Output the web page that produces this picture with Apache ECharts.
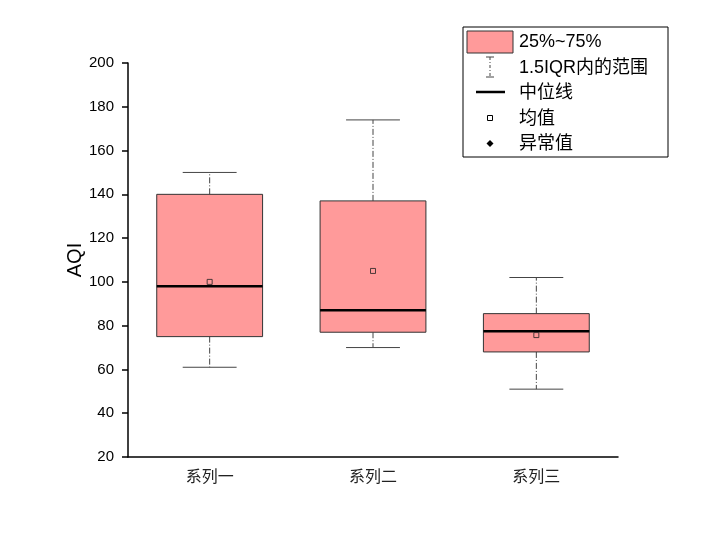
<!DOCTYPE html>
<html>
<head>
<meta charset="utf-8">
<script src="https://cdn.jsdelivr.net/npm/echarts@6/dist/echarts.min.js"></script>
<style>html,body{margin:0;padding:0;background:#fff}#c{width:720px;height:551px}</style>
</head>
<body>
<div id="c"></div>
<script>
const categories = ['系列一', '系列二', '系列三'];
const whiskerLow = [61, 70, 51];
const q1 = [75, 77, 68];
const median = [98, 87, 77.5];
const q3 = [140, 137, 85.5];
const whiskerHigh = [150, 174, 102];
const means = [100, 105, 75.7];
const legendLabels = ['25%~75%', '1.5IQR内的范围', '中位线', '均值', '异常值'];
const yName = 'AQI';

const boxColor = '#ff9a9a';
const edge = '#333';
const latin = "'Liberation Sans', Arial, 'Noto Sans CJK SC', sans-serif";
const cjk = "'Noto Sans CJK SC', sans-serif";

const boxData = categories.map((c, i) => [i, whiskerLow[i], q1[i], median[i], q3[i], whiskerHigh[i]]);

function renderItem(params, api) {
  const i = api.value(0);
  const lo = api.coord([i, api.value(1)]);
  const b1 = api.coord([i, api.value(2)]);
  const md = api.coord([i, api.value(3)]);
  const b3 = api.coord([i, api.value(4)]);
  const hi = api.coord([i, api.value(5)]);
  const band = api.size([1, 0])[0];
  const bw = band * 0.648, cw = band * 0.33;
  const x = lo[0];
  const dash = {stroke: '#444', lineWidth: 1, lineDash: [6, 2, 1, 2]};
  const solid = {stroke: '#444', lineWidth: 1};
  return {
    type: 'group',
    children: [
      {type: 'line', shape: {x1: x, y1: b3[1], x2: x, y2: hi[1]}, style: dash},
      {type: 'line', shape: {x1: x, y1: b1[1], x2: x, y2: lo[1]}, style: dash},
      {type: 'line', shape: {x1: x - cw / 2, y1: hi[1], x2: x + cw / 2, y2: hi[1]}, style: solid},
      {type: 'line', shape: {x1: x - cw / 2, y1: lo[1], x2: x + cw / 2, y2: lo[1]}, style: solid},
      {type: 'rect', shape: {x: x - bw / 2, y: b3[1], width: bw, height: b1[1] - b3[1]},
        style: {fill: boxColor, stroke: edge, lineWidth: 1}},
      {type: 'line', shape: {x1: x - bw / 2, y1: md[1], x2: x + bw / 2, y2: md[1]},
        style: {stroke: '#000', lineWidth: 2.5}}
    ]
  };
}

// legend built as graphic elements
const lgX = 463, lgY = 27, rowH = 25.6, row0 = 42;
const legendGraphic = [
  {type: 'rect', shape: {x: lgX, y: lgY, width: 205, height: 130}, style: {fill: '#fff', stroke: '#000', lineWidth: 1}, z: 100},
  {type: 'rect', shape: {x: 467, y: 31, width: 46, height: 22}, style: {fill: boxColor, stroke: edge, lineWidth: 1}, z: 101},
  {type: 'line', shape: {x1: 490, y1: 57, x2: 490, y2: 77}, style: {stroke: '#444', lineWidth: 1, lineDash: [3, 2, 1, 2]}, z: 101},
  {type: 'line', shape: {x1: 486, y1: 57, x2: 494, y2: 57}, style: {stroke: '#444', lineWidth: 1}, z: 101},
  {type: 'line', shape: {x1: 486, y1: 77, x2: 494, y2: 77}, style: {stroke: '#444', lineWidth: 1}, z: 101},
  {type: 'line', shape: {x1: 476, y1: 92, x2: 505, y2: 92}, style: {stroke: '#000', lineWidth: 2.5}, z: 101},
  {type: 'rect', shape: {x: 487.5, y: 115.5, width: 5, height: 5}, style: {fill: '#fff', stroke: '#000', lineWidth: 1}, z: 101},
  {type: 'polygon', shape: {points: [[490, 140], [493.5, 143.5], [490, 147], [486.5, 143.5]]}, style: {fill: '#000'}, z: 101}
];
legendLabels.forEach((t, k) => {
  legendGraphic.push({
    type: 'text', x: 519, y: row0 + k * rowH, z: 101,
    style: {text: t, font: '18px ' + latin, fill: '#000', verticalAlign: 'middle', align: 'left'}
  });
});

const chart = echarts.init(document.getElementById('c'), null, {renderer: 'canvas'});
chart.setOption({
  animation: false,
  backgroundColor: '#fff',
  grid: {left: 128, right: 102, top: 63, bottom: 94, containLabel: false},
  xAxis: {
    type: 'category', data: categories, boundaryGap: true,
    axisLine: {lineStyle: {color: '#000', width: 1.5}},
    axisTick: {alignWithLabel: true, length: 6, lineStyle: {color: '#000', width: 1.5}},
    axisLabel: {fontFamily: cjk, fontSize: 16, color: '#222', margin: 11},
    splitLine: {show: false}
  },
  yAxis: {
    type: 'value', min: 20, max: 200, interval: 20,
    name: yName, nameLocation: 'middle', nameGap: 43, nameRotate: 90, nameMoveOverlap: false,
    nameTextStyle: {fontFamily: latin, fontSize: 20, color: '#000'},
    axisLine: {show: true, lineStyle: {color: '#000', width: 1.5}},
    axisTick: {show: true, length: 6, lineStyle: {color: '#000', width: 1.5}},
    axisLabel: {fontFamily: latin, fontSize: 15, color: '#000', margin: 14},
    splitLine: {show: false}
  },
  series: [
    {type: 'custom', renderItem: renderItem, data: boxData, encode: {x: 0, y: [1, 2, 3, 4, 5]}, z: 2},
    {type: 'scatter', data: means, symbol: 'rect', symbolSize: 5,
      itemStyle: {color: boxColor, borderColor: '#222', borderWidth: 1}, z: 5}
  ],
  graphic: legendGraphic
});
</script>
</body>
</html>
